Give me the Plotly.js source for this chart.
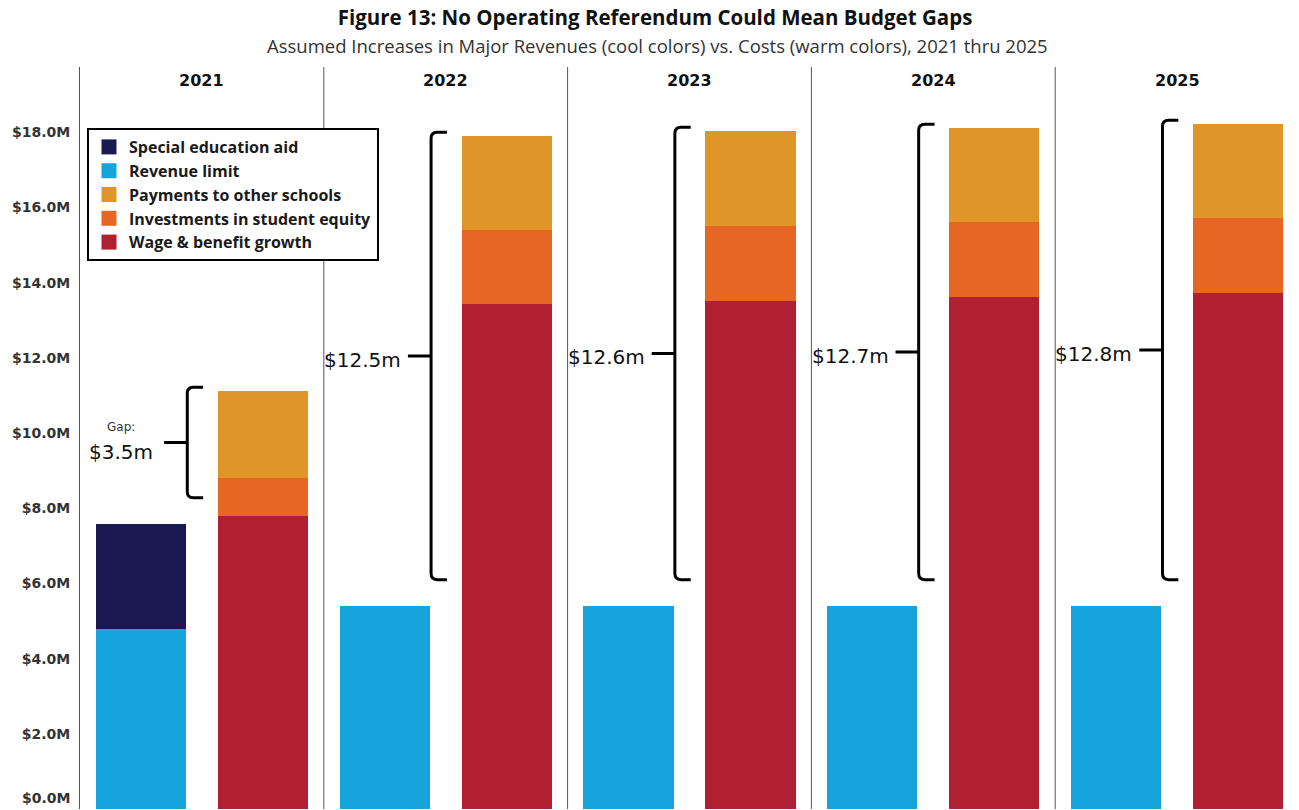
<!DOCTYPE html>
<html>
<head>
<meta charset="utf-8">
<script src="https://cdn.plot.ly/plotly-3.0.1.min.js"></script>
<style>html,body{margin:0;padding:0;background:#fff;}#chart{width:1299px;height:810px;}</style>
</head>
<body>
<div id="chart"></div>
<script>
// ---- data (values in $ millions) ----
const years = ['2021', '2022', '2023', '2024', '2025'];
const revenueLimit = [4.79, 5.40, 5.40, 5.40, 5.40];
const specialEdAid = [2.79, 0, 0, 0, 0];
const wageBenefitGrowth = [7.79, 13.43, 13.51, 13.62, 13.72];
const studentEquity = [1.01, 1.97, 2.00, 1.99, 2.00];
const paymentsOtherSchools = [2.32, 2.50, 2.52, 2.50, 2.50];
const tickValues = [2, 4, 6, 8, 10, 12, 14, 16, 18];
const groups = ['Revenues', 'Costs'];

const colors = {
  special: '#1b1952',
  revenue: '#17a4dc',
  payments: '#e09626',
  equity: '#e86624',
  wage: '#b01f32'
};

const nY = years.length;
const traces = [];
const layout = {
  width: 1299, height: 810,
  margin: {l: 80, r: 0, t: 67, b: 1},
  paper_bgcolor: '#fff', plot_bgcolor: '#fff',
  barmode: 'stack', bargap: 0.26,
  showlegend: true,
  title: {
    text: '<b>Figure 13: No Operating Referendum Could Mean Budget Gaps</b>',
    font: {family: 'Open Sans', size: 20.5, color: '#111'},
    x: 655 / 1299, xanchor: 'center', xref: 'container',
    y: 1 - 18 / 810, yanchor: 'middle', yref: 'container'
  },
  legend: {
    x: 7 / 1219, xanchor: 'left', y: (809 - 128) / 742, yanchor: 'top',
    bgcolor: '#fff', bordercolor: '#000', borderwidth: 2,
    font: {family: 'Open Sans', size: 16, color: '#1a1a1a', weight: 700},
    traceorder: 'normal', tracegroupgap: 0, itemclick: false
  },
  yaxis: {
    range: [0, 742 / 37.6], tickvals: tickValues,
    ticktext: tickValues.map(v => '$' + v.toFixed(1) + 'M'),
    tickfont: {family: 'DejaVu Sans', size: 14, color: '#333', weight: 700},
    showgrid: false, zeroline: false, showline: true, linecolor: '#555', linewidth: 1,
    ticks: '', ticklabelstandoff: 6, fixedrange: true
  },
  shapes: [], annotations: []
};

// subtitle
layout.annotations.push({
  text: 'Assumed Increases in Major Revenues (cool colors) vs. Costs (warm colors), 2021 thru 2025',
  xref: 'paper', yref: 'paper', x: 0.5 - 32 / 1219, y: (809 - 45) / 742,
  xanchor: 'center', yanchor: 'middle', showarrow: false,
  font: {family: 'Open Sans', size: 18.5, color: '#333'}
});
// $0.0M bottom label (shifted up like the original)
layout.annotations.push({
  text: '$0.0M', xref: 'paper', yref: 'paper', x: 0, xshift: -8, y: (809 - 798) / 742,
  xanchor: 'right', yanchor: 'middle', showarrow: false,
  font: {family: 'DejaVu Sans', size: 14, color: '#333', weight: 700}
});

for (let i = 0; i < nY; i++) {
  const xn = i === 0 ? 'x' : 'x' + (i + 1);
  const axName = i === 0 ? 'xaxis' : 'xaxis' + (i + 1);
  layout[axName] = {
    domain: [i / nY, (i + 1) / nY], anchor: 'y', type: 'category',
    categoryorder: 'array', categoryarray: groups, range: [-0.5, 1.5],
    showticklabels: false, showgrid: false, zeroline: false, showline: false,
    ticks: '', fixedrange: true
  };
  const addBar = (name, group, val, color) => {
    traces.push({
      type: 'bar', name: name, x: [group], y: [val], xaxis: xn, yaxis: 'y',
      marker: {color: color, line: {width: 0}}, showlegend: false,
      hovertemplate: name + ': $%{y:.2f}M<extra>' + years[i] + '</extra>'
    });
  };
  addBar('Revenue limit', groups[0], revenueLimit[i], colors.revenue);
  if (specialEdAid[i] > 0) addBar('Special education aid', groups[0], specialEdAid[i], colors.special);
  addBar('Wage & benefit growth', groups[1], wageBenefitGrowth[i], colors.wage);
  addBar('Investments in student equity', groups[1], studentEquity[i], colors.equity);
  addBar('Payments to other schools', groups[1], paymentsOtherSchools[i], colors.payments);

  // year header
  layout.annotations.push({
    text: '<b>' + years[i] + '</b>', xref: xn + ' domain', yref: 'paper',
    x: 0.5, y: (809 - 80) / 742, xanchor: 'center', yanchor: 'middle', showarrow: false,
    font: {family: 'DejaVu Sans', size: 16, color: '#111'}
  });
  // panel divider
  if (i > 0) {
    layout.shapes.push({type: 'line', xref: 'paper', yref: 'paper', x0: i / nY, x1: i / nY,
      y0: 0, y1: 1, line: {color: '#555', width: 1}});
  }

  // gap brace
  const revTotal = revenueLimit[i] + specialEdAid[i];
  const costTotal = wageBenefitGrowth[i] + studentEquity[i] + paymentsOtherSchools[i];
  const gap = costTotal - revTotal;
  const top = costTotal + 0.1;
  const bot = revTotal + 0.7;
  const mid = (top + bot) / 2;
  const xb = 0.38, hx1 = 0.05, hx2 = 0.13, hy = 0.16, tk = 0.19;
  layout.shapes.push({
    type: 'path', xref: xn, yref: 'y', layer: 'above',
    path: `M ${xb + hx2},${top} L ${xb + hx1},${top} Q ${xb},${top} ${xb},${top - hy} ` +
          `L ${xb},${bot + hy} Q ${xb},${bot} ${xb + hx1},${bot} L ${xb + hx2},${bot} ` +
          `M ${xb},${mid} L ${xb - tk},${mid}`,
    line: {color: '#000', width: 3}
  });
  const label = '$' + gap.toFixed(1) + 'm';
  if (i === 0) {
    layout.annotations.push({
      text: 'Gap:', xref: xn, yref: 'y', x: xb, xshift: -66, y: mid, yshift: 15,
      xanchor: 'center', yanchor: 'middle', showarrow: false,
      font: {family: 'DejaVu Sans', size: 12, color: '#333'}
    });
    layout.annotations.push({
      text: label, xref: xn, yref: 'y', x: xb, xshift: -66, y: mid, yshift: -10,
      xanchor: 'center', yanchor: 'middle', showarrow: false,
      font: {family: 'DejaVu Sans', size: 20, color: '#111'}
    });
  } else {
    layout.annotations.push({
      text: label, xref: xn, yref: 'y', x: xb, xshift: -28, y: mid, yshift: -4,
      xanchor: 'right', yanchor: 'middle', showarrow: false,
      font: {family: 'DejaVu Sans', size: 20, color: '#111'}
    });
  }
}

// legend entries (square swatches)
const legendItems = [
  ['Special education aid', colors.special],
  ['Revenue limit', colors.revenue],
  ['Payments to other schools', colors.payments],
  ['Investments in student equity', colors.equity],
  ['Wage & benefit growth', colors.wage]
];
legendItems.forEach((it, k) => {
  traces.push({
    type: 'scatter', mode: 'markers', name: it[0], x: [null], y: [null],
    xaxis: 'x', yaxis: 'y', legendrank: k + 1, hoverinfo: 'skip',
    marker: {symbol: 'square', size: 15, color: it[1]}
  });
});

Plotly.newPlot('chart', traces, layout, {displayModeBar: false});
</script>
</body>
</html>
